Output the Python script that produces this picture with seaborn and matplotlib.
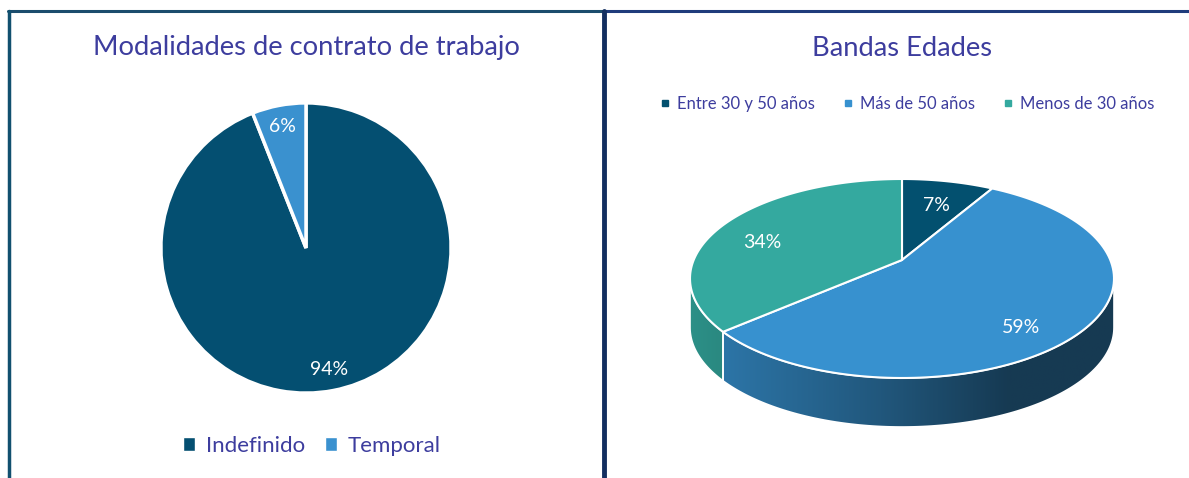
import numpy as np
import matplotlib
matplotlib.use('Agg')
import matplotlib.pyplot as plt
import seaborn as sns
from matplotlib.patches import Polygon, Patch
from matplotlib.lines import Line2D
from matplotlib.colors import LinearSegmentedColormap, to_rgb

# datos
contrato_labels = ['Indefinido', 'Temporal']
contrato_pct = [94, 6]
contrato_colors = ['#044f71', '#3a91cf']

edad_labels = ['Entre 30 y 50 años', 'Más de 50 años', 'Menos de 30 años']
edad_pct = [7, 59, 34]
edad_colors = ['#03506f', '#3791cf', '#34a99f']

TEXT = '#3d3d9e'

sns.set_theme(style='white')
plt.rcParams['font.family'] = ['Lato', 'DejaVu Sans']

W, H = 1189, 478
fig = plt.figure(figsize=(W / 100, H / 100), dpi=100)
fig.patch.set_facecolor('white')


def px(x, y, w, h):
    # caja en pixeles (origen arriba-izquierda) -> fracciones de figura
    return [x / W, 1 - (y + h) / H, w / W, h / H]


# marco
fig.add_artist(Line2D([8 / W, 604 / W], [1 - 11 / H] * 2, color='#1b4d6d', lw=2.2))
fig.add_artist(Line2D([604 / W, 1], [1 - 11 / H] * 2, color='#1f3c7c', lw=2.2))
fig.add_artist(Line2D([9 / W] * 2, [0, 1 - 11 / H], color='#11506f', lw=2.5))
fig.add_artist(Line2D([604 / W] * 2, [0, 1 - 11 / H], color='#132f60', lw=3.5))

# --- Modalidades de contrato ---
ax1 = fig.add_axes(px(158, 100, 296, 296))
wedges, texts, autotexts = ax1.pie(
    contrato_pct, colors=contrato_colors, startangle=90, counterclock=False,
    autopct=lambda p: f'{p:.0f}%', pctdistance=0.85,
    wedgeprops=dict(edgecolor='white', linewidth=2.5),
    textprops=dict(color='white', fontsize=14))
ax1.set_xlim(-1.02, 1.02)
ax1.set_ylim(-1.02, 1.02)

fig.text(306 / W, 1 - 48 / H, 'Modalidades de contrato de trabajo',
         ha='center', va='center', fontsize=19.7, color=TEXT)
fig.legend(handles=[Patch(facecolor=c) for c in contrato_colors], labels=contrato_labels,
           loc='center', bbox_to_anchor=(312 / W, 1 - 446 / H), ncol=2, frameon=False,
           fontsize=16, labelcolor=TEXT, handlelength=0.55, handleheight=0.55,
           handletextpad=0.5, columnspacing=0.85)

# --- Bandas Edades (pastel 3D) ---
ax2 = fig.add_axes([0, 0, 1, 1])
ax2.set_xlim(0, W)
ax2.set_ylim(H, 0)
ax2.axis('off')
ax2.patch.set_alpha(0)

cx, cy, a, b, depth = 902, 278.5, 212, 99.5, 49
vx, vy = 902, 260


def rim(t):
    return np.column_stack([cx + a * np.sin(t), cy - b * np.cos(t)])


def shade(c, f):
    return tuple(np.array(to_rgb(c)) * f)


bounds = np.concatenate([[0], np.cumsum(edad_pct)]) / sum(edad_pct) * 2 * np.pi
grad = np.linspace(0, 1, 256).reshape(1, -1)

# caras laterales
for i, c in enumerate(edad_colors):
    t0, t1 = max(bounds[i], np.pi / 2), min(bounds[i + 1], 1.5 * np.pi)
    if t1 <= t0:
        continue
    t = np.linspace(t0, t1, 120)
    top = rim(t)
    bot = top + [0, depth]
    poly = Polygon(np.vstack([top, bot[::-1]]), closed=True, facecolor='none',
                   edgecolor='white', lw=1.2, zorder=3)
    ax2.add_patch(poly)
    cmap = LinearSegmentedColormap.from_list(
        f'side{i}', [(0, shade(c, 0.85)), (0.45, shade(c, 0.6)),
                     (0.75, shade(c, 0.4)), (1, shade(c, 0.4))])
    im = ax2.imshow(grad, cmap=cmap, aspect='auto', zorder=2,
                    extent=[cx - a, cx + a, cy + b + depth, cy - b])
    im.set_clip_path(poly)

# cara superior
for i, c in enumerate(edad_colors):
    t = np.linspace(bounds[i], bounds[i + 1], 120)
    pts = np.vstack([[vx, vy], rim(t)])
    ax2.add_patch(Polygon(pts, closed=True, facecolor=c, edgecolor='white',
                          lw=1.5, zorder=4))
    tm = (bounds[i] + bounds[i + 1]) / 2
    lx, ly = rim([tm])[0]
    ax2.text(cx + 0.75 * (lx - cx), cy + 0.75 * (ly - cy), f'{edad_pct[i]}%',
             ha='center', va='center', color='white', fontsize=14, zorder=5)

fig.text(902 / W, 1 - 48 / H, 'Bandas Edades', ha='center', va='center',
         fontsize=19.7, color=TEXT)
fig.legend(handles=[Line2D([], [], marker='s', ls='', color=c, markersize=4.5) for c in edad_colors],
           labels=edad_labels, loc='center', bbox_to_anchor=(907 / W, 1 - 104 / H),
           ncol=3, frameon=False, fontsize=12, labelcolor=TEXT, handlelength=0.6,
           handletextpad=0.4, columnspacing=1.7)

fig.savefig('out.png', dpi=100, facecolor='white')
